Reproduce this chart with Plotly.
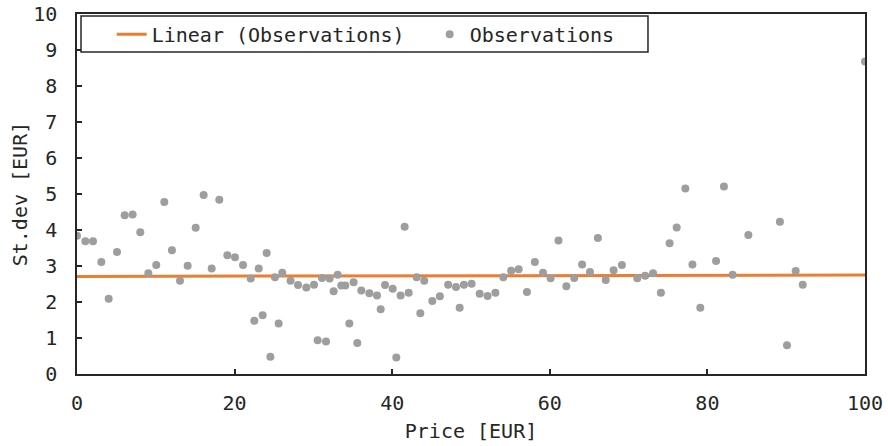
import plotly.graph_objects as go

# Observed prices (EUR) and standard deviation of price (EUR)
price = [0, 1.06, 2.03, 3.09, 4.02, 5.08, 6.05, 7.06, 8.03, 9.05,
         10.06, 11.08, 12.05, 13.07, 14.04, 15.06, 16.07, 17.09, 18.06, 19.08,
         20.05, 21.07, 22.04, 22.5, 23.06, 23.56, 24.07, 24.54, 25.12, 25.59,
         26.05, 27.1, 28.05, 29.1, 30.08, 30.54, 31.09, 31.6, 32.06, 32.57,
         33.08, 33.54, 34.05, 34.56, 35.1, 35.57, 36.08, 37.1, 38.07, 38.54,
         39.09, 40.06, 40.52, 41.07, 41.58, 42.09, 43.1, 43.57, 44.07, 45.09,
         46.05, 47.1, 48.1, 48.56, 49.1, 50.08, 51.1, 52.1, 53.1, 54.1,
         55.1, 56.05, 57.1, 58.1, 59.14, 60.1, 61.1, 62.1, 63.1, 64.1,
         65.1, 66.1, 67.1, 68.1, 69.15, 71.1, 72.1, 73.1, 74.1, 75.2,
         76.1, 77.2, 78.1, 79.1, 81.1, 82.1, 83.2, 85.2, 89.2, 90.1,
         91.2, 92.1, 100]
stdev = [3.84, 3.69, 3.69, 3.11, 2.09, 3.39, 4.41, 4.43, 3.94, 2.80,
         3.03, 4.78, 3.44, 2.59, 3.01, 4.06, 4.97, 2.93, 4.84, 3.30,
         3.24, 3.03, 2.65, 1.48, 2.93, 1.63, 3.36, 0.48, 2.69, 1.40,
         2.81, 2.59, 2.47, 2.40, 2.48, 0.94, 2.67, 0.90, 2.65, 2.30,
         2.76, 2.46, 2.46, 1.40, 2.55, 0.86, 2.32, 2.24, 2.18, 1.80,
         2.47, 2.37, 0.46, 2.18, 4.09, 2.26, 2.69, 1.69, 2.59, 2.03,
         2.16, 2.48, 2.42, 1.84, 2.48, 2.51, 2.23, 2.17, 2.26, 2.69,
         2.87, 2.91, 2.28, 3.11, 2.81, 2.66, 3.71, 2.44, 2.67, 3.04,
         2.83, 3.78, 2.61, 2.88, 3.03, 2.66, 2.73, 2.80, 2.26, 3.63,
         4.07, 5.15, 3.04, 1.84, 3.14, 5.21, 2.76, 3.86, 4.23, 0.80,
         2.86, 2.48, 8.68]

# Linear trendline endpoints
trend_x = [0, 100]
trend_y = [2.71, 2.75]

x_ticks = [0, 20, 40, 60, 80, 100]
y_ticks = list(range(0, 11))

FONT = "Consolas, 'DejaVu Sans Mono', monospace"
FS = 20
INK = "#262626"

fig = go.Figure()
fig.add_trace(go.Scatter(
    x=trend_x, y=trend_y, mode="lines", name="Linear (Observations)",
    line=dict(color="#ED7D31", width=3),
))
fig.add_trace(go.Scatter(
    x=price, y=stdev, mode="markers", name="Observations",
    marker=dict(color="#9E9E9E", size=8),
))

axis_common = dict(
    showline=True, mirror=True, linecolor=INK, linewidth=1.5,
    ticks="inside", ticklen=5, tickcolor=INK, tickwidth=1.5,
    showgrid=False, zeroline=False, automargin=False,
    tickfont=dict(family=FONT, size=FS, color=INK),
)

# Framed box behind the legend entries
fig.add_shape(
    type="rect", xref="paper", yref="paper",
    x0=0.0051, x1=0.7246, y0=0.8944, y1=0.9944,
    line=dict(color=INK, width=1.5), fillcolor="white", layer="above",
)

fig.update_layout(
    width=888, height=446,
    margin=dict(l=77, r=23, t=14, b=72),
    paper_bgcolor="white", plot_bgcolor="white",
    font=dict(family=FONT, size=FS, color=INK),
    showlegend=True,
    legend=dict(
        orientation="h", x=0.044, y=0.944, xanchor="left", yanchor="middle",
        bgcolor="rgba(0,0,0,0)", borderwidth=0,
        font=dict(family=FONT, size=FS, color=INK),
        itemwidth=30, entrywidth=273,
    ),
    xaxis=dict(
        range=[0, 100], tickvals=x_ticks, ticklabelstandoff=10,
        title=dict(text="Price [EUR]", font=dict(family=FONT, size=FS, color=INK), standoff=10),
        **axis_common,
    ),
    yaxis=dict(
        range=[0, 10], tickvals=y_ticks, ticklabelstandoff=14,
        title=dict(text="St.dev [EUR]", font=dict(family=FONT, size=FS, color=INK), standoff=0),
        **axis_common,
    ),
)

fig.write_html("out.html")
